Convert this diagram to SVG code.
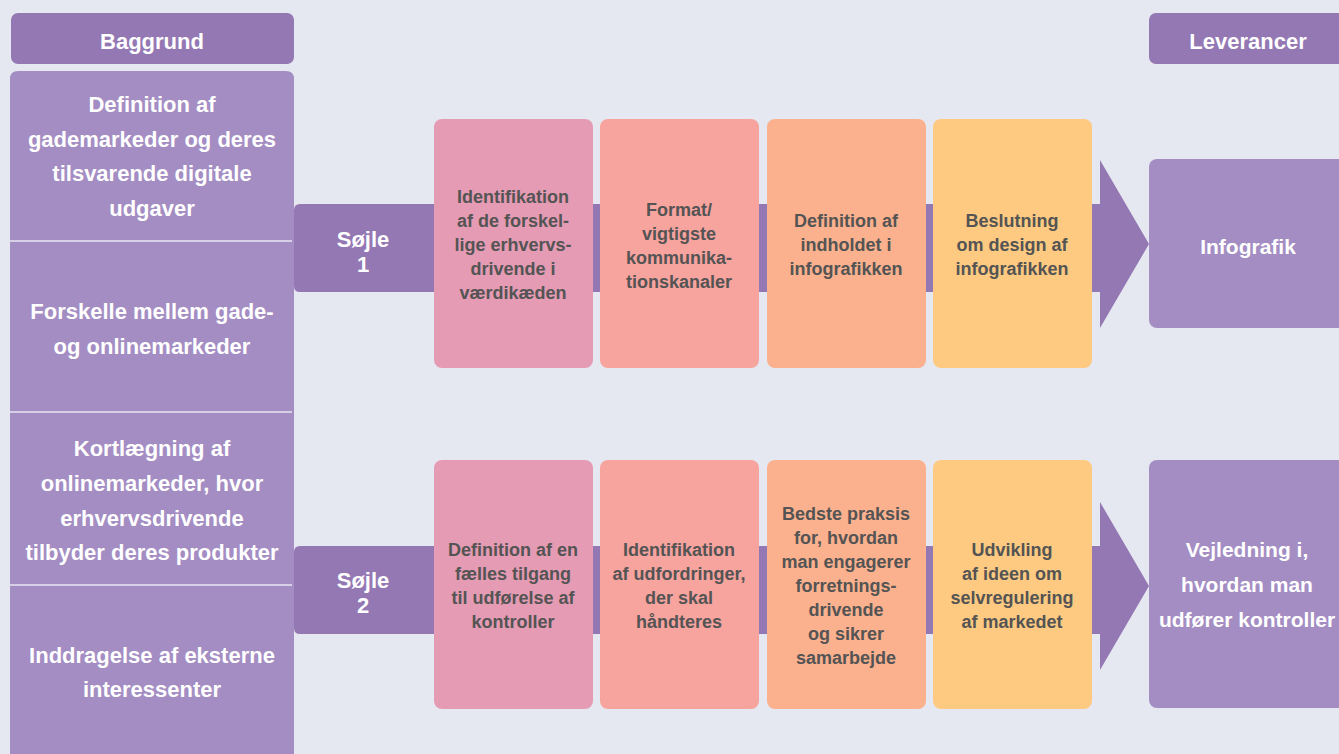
<svg xmlns="http://www.w3.org/2000/svg" width="1339" height="754" viewBox="0 0 1339 754">
<style>
.bg{fill:#E5E8F1}
.hdr{fill:#9478B4}
.col{fill:#A48DC3}
.band{fill:#9478B4}
.sep{stroke:#E8E6F2;stroke-width:1.6}
.wt{font-family:"Liberation Sans",Arial,sans-serif;font-weight:bold;fill:#FFFFFF;text-anchor:middle;font-size:22px}
.wr{font-size:21px}
.bt{font-family:"Liberation Sans",Arial,sans-serif;font-weight:bold;fill:#545454;text-anchor:middle;font-size:18px}
.c1{fill:#E59BB3}
.c2{fill:#F7A39E}
.c3{fill:#FBB18E}
.c4{fill:#FECA81}
</style>
<rect class="bg" x="0" y="0" width="1339" height="754"/>

<g id="connectors">
  <path id="band1" class="band" d="M300,204 H1100 V160 L1149,244 L1100,328 V292 H300 Q294,292 294,286 V210 Q294,204 300,204 Z"/>
  <path id="band2" class="band" d="M300,546 H1100 V502 L1149,586 L1100,670 V634 H300 Q294,634 294,628 V552 Q294,546 300,546 Z"/>
</g>

<g id="header-baggrund">
  <rect class="hdr" x="11" y="13" width="283" height="51" rx="7"/>
  <text class="wt" x="152" y="49">Baggrund</text>
</g>

<g id="header-leverancer">
  <rect class="hdr" x="1149" y="13" width="200" height="51" rx="7"/>
  <text class="wt" x="1248" y="49">Leverancer</text>
</g>

<g id="background-column">
  <path class="col" d="M10,79 Q10,71 18,71 H286 Q294,71 294,79 V754 H10 Z"/>
  <line class="sep" x1="10" y1="241" x2="292" y2="241"/>
  <line class="sep" x1="10" y1="412" x2="292" y2="412"/>
  <line class="sep" x1="10" y1="585" x2="292" y2="585"/>
</g>

<g id="bg1">
  <text class="wt" x="152" y="112">Definition af</text>
  <text class="wt" x="152" y="147">gademarkeder og deres</text>
  <text class="wt" x="152" y="181">tilsvarende digitale</text>
  <text class="wt" x="152" y="216">udgaver</text>
</g>
<g id="bg2">
  <text class="wt" x="152" y="319">Forskelle mellem gade-</text>
  <text class="wt" x="152" y="354">og onlinemarkeder</text>
</g>
<g id="bg3">
  <text class="wt" x="152" y="456">Kortlægning af</text>
  <text class="wt" x="152" y="491">onlinemarkeder, hvor</text>
  <text class="wt" x="152" y="526">erhvervsdrivende</text>
  <text class="wt" x="152" y="560">tilbyder deres produkter</text>
</g>
<g id="bg4">
  <text class="wt" x="152" y="663">Inddragelse af eksterne</text>
  <text class="wt" x="152" y="697">interessenter</text>
</g>

<g id="sojle1">
  <text class="wt" x="363" y="247">Søjle</text>
  <text class="wt" x="363" y="272">1</text>
</g>
<g id="sojle2">
  <text class="wt" x="363" y="588">Søjle</text>
  <text class="wt" x="363" y="613">2</text>
</g>

<g id="r1b1">
  <rect class="c1" x="434" y="119" width="159" height="249" rx="8"/>
  <text class="bt" x="513" y="203">Identifikation</text>
  <text class="bt" x="513" y="227">af de forskel-</text>
  <text class="bt" x="513" y="251">lige erhvervs-</text>
  <text class="bt" x="513" y="275">drivende i</text>
  <text class="bt" x="513" y="299">værdikæden</text>
</g>
<g id="r1b2">
  <rect class="c2" x="600" y="119" width="159" height="249" rx="8"/>
  <text class="bt" x="679" y="216">Format/</text>
  <text class="bt" x="679" y="240">vigtigste</text>
  <text class="bt" x="679" y="264">kommunika-</text>
  <text class="bt" x="679" y="288">tionskanaler</text>
</g>
<g id="r1b3">
  <rect class="c3" x="767" y="119" width="159" height="249" rx="8"/>
  <text class="bt" x="846" y="227">Definition af</text>
  <text class="bt" x="846" y="251">indholdet i</text>
  <text class="bt" x="846" y="275">infografikken</text>
</g>
<g id="r1b4">
  <rect class="c4" x="933" y="119" width="159" height="249" rx="8"/>
  <text class="bt" x="1012" y="227">Beslutning</text>
  <text class="bt" x="1012" y="251">om design af</text>
  <text class="bt" x="1012" y="275">infografikken</text>
</g>

<g id="r2b1">
  <rect class="c1" x="434" y="460" width="159" height="249" rx="8"/>
  <text class="bt" x="513" y="556">Definition af en</text>
  <text class="bt" x="513" y="580">fælles tilgang</text>
  <text class="bt" x="513" y="604">til udførelse af</text>
  <text class="bt" x="513" y="628">kontroller</text>
</g>
<g id="r2b2">
  <rect class="c2" x="600" y="460" width="159" height="249" rx="8"/>
  <text class="bt" x="679" y="556">Identifikation</text>
  <text class="bt" x="679" y="580">af udfordringer,</text>
  <text class="bt" x="679" y="604">der skal</text>
  <text class="bt" x="679" y="628">håndteres</text>
</g>
<g id="r2b3">
  <rect class="c3" x="767" y="460" width="159" height="249" rx="8"/>
  <text class="bt" x="846" y="520">Bedste praksis</text>
  <text class="bt" x="846" y="544">for, hvordan</text>
  <text class="bt" x="846" y="568">man engagerer</text>
  <text class="bt" x="846" y="592">forretnings-</text>
  <text class="bt" x="846" y="616">drivende</text>
  <text class="bt" x="846" y="640">og sikrer</text>
  <text class="bt" x="846" y="664">samarbejde</text>
</g>
<g id="r2b4">
  <rect class="c4" x="933" y="460" width="159" height="249" rx="8"/>
  <text class="bt" x="1012" y="556">Udvikling</text>
  <text class="bt" x="1012" y="580">af ideen om</text>
  <text class="bt" x="1012" y="604">selvregulering</text>
  <text class="bt" x="1012" y="628">af markedet</text>
</g>

<g id="infografik">
  <rect class="col" x="1149" y="159" width="200" height="169" rx="8"/>
  <text class="wt wr" x="1248" y="254">Infografik</text>
</g>
<g id="vejledning">
  <rect class="col" x="1149" y="460" width="200" height="248" rx="8"/>
  <text class="wt wr" x="1247" y="557">Vejledning i,</text>
  <text class="wt wr" x="1247" y="592">hvordan man</text>
  <text class="wt wr" x="1247" y="627">udfører kontroller</text>
</g>
</svg>
